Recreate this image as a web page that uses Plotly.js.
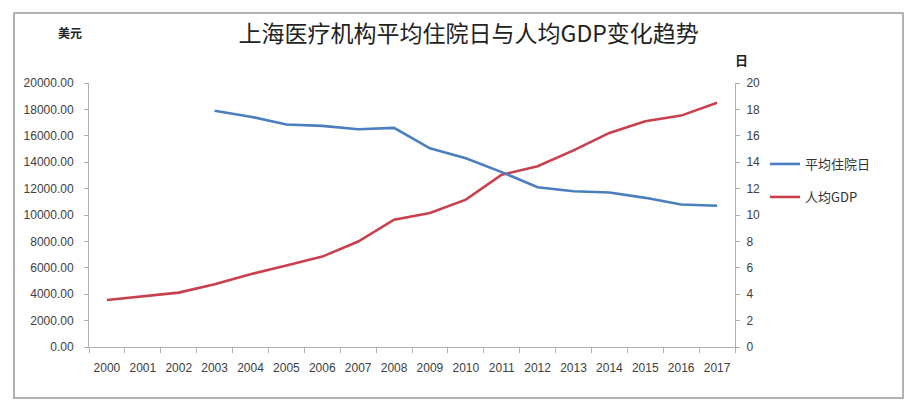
<!DOCTYPE html>
<html><head><meta charset="utf-8">
<script src="https://cdn.plot.ly/plotly-3.0.1.min.js"></script>
<style>html,body{margin:0;padding:0;background:#fff}#chart{width:910px;height:405px}</style>
</head><body><div id="chart"></div>
<script>
const years = ["2000","2001","2002","2003","2004","2005","2006","2007","2008","2009","2010","2011","2012","2013","2014","2015","2016","2017"];
const avgStayDays = [null,null,null,17.9,17.45,16.85,16.75,16.5,16.6,15.05,14.3,13.25,12.1,11.8,11.7,11.3,10.8,10.7];
const gdpPerCapita = [3560,3820,4120,4760,5520,6170,6850,7990,9640,10150,11160,13050,13690,14900,16220,17100,17530,18500];
const leftTicks = [0,2000,4000,6000,8000,10000,12000,14000,16000,18000,20000];
const rightTicks = [0,2,4,6,8,10,12,14,16,18,20];
const titleText = "上海医疗机构平均住院日与人均GDP变化趋势";
const leftUnit = "美元";
const rightUnit = "日";
const nameStay = "平均住院日";
const nameGdp = "人均GDP";

const L = 89, R = 735, T = 83, B = 347, W = 910, H = 405;
const px = x => (x - L) / (R - L);
const py = y => (B - y) / (B - T);
const tickFont = {family: "Liberation Sans, Arial, sans-serif", size: 12, color: "#404040"};

const traces = [
  {x: years, y: avgStayDays, name: nameStay, type: "scatter", mode: "lines", yaxis: "y2",
   line: {color: "#4A7EBF", width: 2.6}, connectgaps: false, legend: "legend"},
  {x: years, y: gdpPerCapita, name: nameGdp, type: "scatter", mode: "lines", yaxis: "y",
   line: {color: "#C9404C", width: 2.6}, legend: "legend2"}
];

const layout = {
  width: W, height: H,
  margin: {l: L, r: W - R, t: T, b: H - B},
  paper_bgcolor: "#fff", plot_bgcolor: "#fff",
  showlegend: true,
  title: {text: titleText, x: 0.515, xanchor: "center", xref: "container", y: 1 - 34 / H, yanchor: "middle",
          font: {family: "Noto Sans CJK SC", size: 23, color: "#222"}},
  xaxis: {type: "category", tickvals: years, ticktext: years, tickson: "boundaries", tickangle: 0,
          ticks: "outside", ticklen: 5, tickcolor: "#b0b0b0", showline: true, linecolor: "#b0b0b0",
          showgrid: false, zeroline: false, tickfont: tickFont, ticklabelstandoff: 10,
          range: [-0.5, 17.5], fixedrange: true},
  yaxis: {range: [0, 20000], tickvals: leftTicks, tickformat: ".2f", ticks: "outside", ticklen: 4,
          tickcolor: "#b0b0b0", showline: true, linecolor: "#b0b0b0", showgrid: false, zeroline: false,
          tickfont: tickFont, ticklabelstandoff: 8},
  yaxis2: {range: [0, 20], tickvals: rightTicks, overlaying: "y", side: "right", ticks: "outside",
           ticklen: 4, tickcolor: "#b0b0b0", showline: true, linecolor: "#b0b0b0", showgrid: false,
           zeroline: false, tickfont: tickFont, ticklabelstandoff: 4},
  legend: {x: px(765), xanchor: "left", y: py(164), yanchor: "middle", bgcolor: "rgba(0,0,0,0)",
           font: {family: "Noto Sans CJK SC", size: 13, color: "#333"}},
  legend2: {x: px(765), xanchor: "left", y: py(197), yanchor: "middle", bgcolor: "rgba(0,0,0,0)",
            font: {family: "Noto Sans CJK SC", size: 13, color: "#333"}},
  annotations: [
    {text: "<b>" + leftUnit + "</b>", xref: "paper", yref: "paper", x: px(70), y: py(33),
     xanchor: "center", yanchor: "middle", showarrow: false,
     font: {family: "Noto Sans CJK SC", size: 12, color: "#222"}},
    {text: "<b>" + rightUnit + "</b>", xref: "paper", yref: "paper", x: px(742), y: py(60),
     xanchor: "center", yanchor: "middle", showarrow: false,
     font: {family: "Noto Sans CJK SC", size: 13, color: "#222"}}
  ],
  shapes: [
    {type: "rect", xref: "paper", yref: "paper", x0: px(14), x1: px(903), y0: py(398), y1: py(13),
     line: {color: "#9a9a9a", width: 1.5}, fillcolor: "rgba(0,0,0,0)", layer: "below"}
  ]
};
Plotly.newPlot("chart", traces, layout, {staticPlot: true});
</script></body></html>
